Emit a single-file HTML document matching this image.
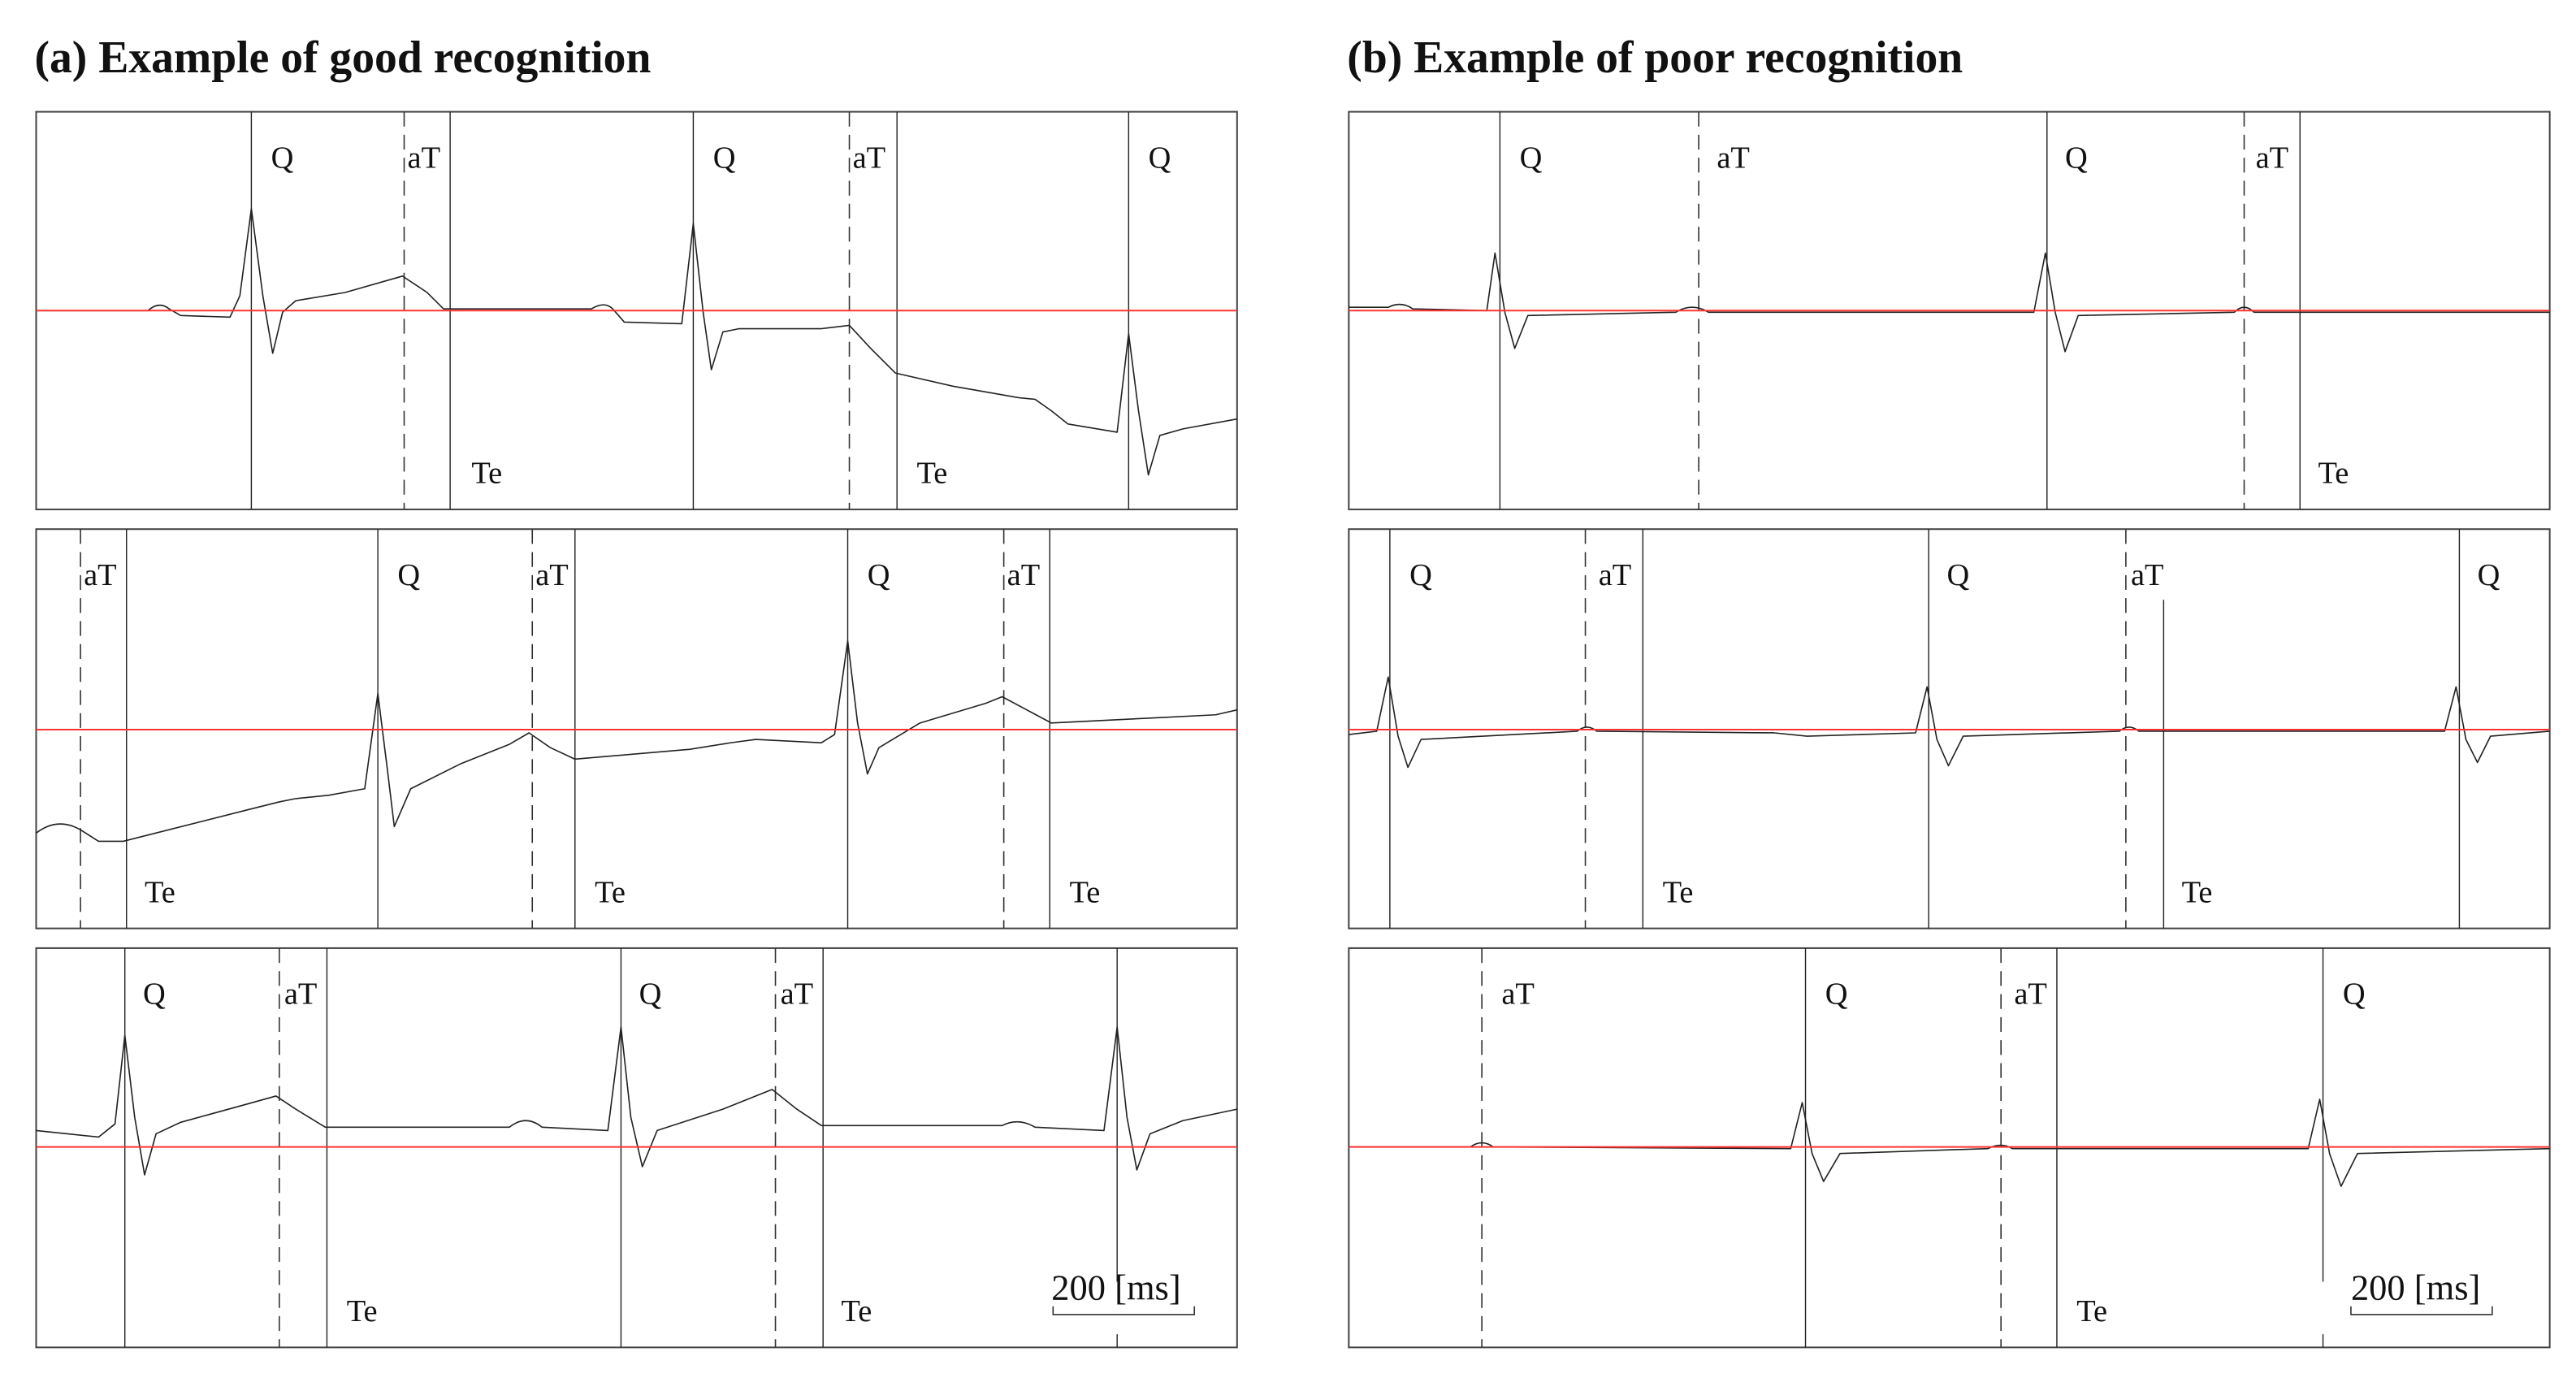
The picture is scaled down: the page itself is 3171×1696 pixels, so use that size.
<!DOCTYPE html>
<html><head><meta charset="utf-8"><style>
html,body{margin:0;padding:0;background:#fff;}
svg{display:block;}
text{font-family:"Liberation Serif",serif;fill:#111;}
</style></head><body>
<svg width="3171" height="1696" viewBox="0 0 1568 838.6" xmlns="http://www.w3.org/2000/svg">
<g font-weight="bold" font-size="27.5">
<text x="21" y="44">(a) Example of good recognition</text>
<text x="820" y="44">(b) Example of poor recognition</text>
</g>
<g fill="none" stroke="#444" stroke-width="1">
<rect x="22" y="68" width="731" height="242"/>
<rect x="22" y="322" width="731" height="243"/>
<rect x="22" y="577" width="731" height="243"/>
<rect x="821" y="68" width="731" height="242"/>
<rect x="821" y="322" width="731" height="243"/>
<rect x="821" y="577" width="731" height="243"/>
</g>
<g stroke="#222" stroke-width="0.7">
<line x1="153" y1="68" x2="153" y2="310"/><line x1="274" y1="68" x2="274" y2="310"/>
<line x1="422" y1="68" x2="422" y2="310"/><line x1="546" y1="68" x2="546" y2="310"/>
<line x1="687" y1="68" x2="687" y2="310"/>
<line x1="77" y1="322" x2="77" y2="565"/><line x1="230" y1="322" x2="230" y2="565"/>
<line x1="350" y1="322" x2="350" y2="565"/><line x1="516" y1="322" x2="516" y2="565"/>
<line x1="639" y1="322" x2="639" y2="565"/>
<line x1="76" y1="577" x2="76" y2="820"/><line x1="199" y1="577" x2="199" y2="820"/>
<line x1="378" y1="577" x2="378" y2="820"/><line x1="501" y1="577" x2="501" y2="820"/>
<line x1="680" y1="577" x2="680" y2="780"/><line x1="680" y1="812" x2="680" y2="820"/>
<line x1="913" y1="68" x2="913" y2="310"/><line x1="1246" y1="68" x2="1246" y2="310"/>
<line x1="1400" y1="68" x2="1400" y2="310"/>
<line x1="846" y1="322" x2="846" y2="565"/><line x1="1000" y1="322" x2="1000" y2="565"/>
<line x1="1174" y1="322" x2="1174" y2="565"/><line x1="1317" y1="365" x2="1317" y2="565"/>
<line x1="1497" y1="322" x2="1497" y2="565"/>
<line x1="1099" y1="577" x2="1099" y2="820"/><line x1="1252" y1="577" x2="1252" y2="820"/>
<line x1="1414" y1="577" x2="1414" y2="780"/><line x1="1414" y1="812" x2="1414" y2="820"/>
</g>
<g stroke="#333" stroke-width="0.8" stroke-dasharray="9,5">
<line x1="246" y1="68" x2="246" y2="310"/><line x1="517" y1="68" x2="517" y2="310"/>
<line x1="49" y1="322" x2="49" y2="565"/><line x1="324" y1="322" x2="324" y2="565"/><line x1="611" y1="322" x2="611" y2="565"/>
<line x1="170" y1="577" x2="170" y2="820"/><line x1="472" y1="577" x2="472" y2="820"/>
<line x1="1034" y1="68" x2="1034" y2="310"/><line x1="1366" y1="68" x2="1366" y2="310"/>
<line x1="965" y1="322" x2="965" y2="565"/><line x1="1294" y1="322" x2="1294" y2="565"/>
<line x1="902" y1="577" x2="902" y2="820"/><line x1="1218" y1="577" x2="1218" y2="820"/>
</g>
<g fill="none" stroke="#222" stroke-width="0.8" stroke-linejoin="round">
<path d="M22,189 L90,189 Q97,183 103,188 L110,192 L140,193 L146,180 L153,127 L160,180 L166,215 L172,190 L180,183 L210,178 L245,168 L260,178 L270,188 L360,188 Q368,183 373,188 L380,196 L415,197 L422,136 L428,190 L433,225 L440,202 L450,200 L500,200 L517,198 L530,212 L545,227 L580,235 L620,242 L630,243 L640,250 L650,258 L680,263 L687,203 L693,250 L699,289 L706,265 L720,261 L753,255"/>
<path d="M22,507 Q35,497 49,505 L60,512 L75,512 L150,493 L170,488 L180,486 L200,484 L222,480 L230,422 L236,470 L240,503 L250,480 L280,465 L310,453 L322,446 L335,455 L350,462 L420,456 L445,452 L460,450 L500,452 L508,447 L516,390 L522,440 L528,471 L535,455 L560,440 L600,428 L610,424 L625,432 L640,440 L700,437 L740,435 L753,432"/>
<path d="M22,688 L60,692 L70,684 L76,630 L82,680 L88,715 L95,690 L110,683 L150,672 L168,667 L180,675 L198,686 L310,686 Q320,678 330,686 L370,688 L378,625 L384,680 L391,710 L400,688 L440,675 L470,663 L485,675 L500,685 L610,685 Q620,680 630,686 L672,688 L680,625 L686,680 L692,712 L700,690 L720,682 L753,675"/>
<path d="M821,187 L845,187 Q853,183 860,188 L905,189 L910,154 L916,190 L922,212 L930,192 L1020,190 Q1030,184 1040,190 L1238,190 L1245,154 L1251,190 L1257,214 L1265,192 L1360,190 Q1366,184 1372,190 L1552,190"/>
<path d="M821,447 L838,445 L845,412 L851,448 L857,467 L865,450 L960,445 Q966,440 972,445 L1080,446 L1100,448 L1166,446 L1173,418 L1179,450 L1186,466 L1195,448 L1290,445 Q1296,440 1302,445 L1488,445 L1495,418 L1501,450 L1508,464 L1516,448 L1552,445"/>
<path d="M821,698 L895,698 Q902,693 909,698 L1090,699 L1097,671 L1103,702 L1110,719 L1120,702 L1210,699 Q1218,695 1225,699 L1405,699 L1412,669 L1418,702 L1425,722 L1435,702 L1552,699"/>
</g>
<g stroke="#f33" stroke-width="1">
<line x1="22" y1="189" x2="753" y2="189"/>
<line x1="22" y1="444" x2="753" y2="444"/>
<line x1="22" y1="698" x2="753" y2="698"/>
<line x1="821" y1="189" x2="1552" y2="189"/>
<line x1="821" y1="444" x2="1552" y2="444"/>
<line x1="821" y1="698" x2="1552" y2="698"/>
</g>
<g font-size="19">
<text x="165" y="102">Q</text><text x="248" y="102">aT</text><text x="434" y="102">Q</text><text x="519" y="102">aT</text><text x="699" y="102">Q</text>
<text x="287" y="294">Te</text><text x="558" y="294">Te</text>
<text x="51" y="356">aT</text><text x="242" y="356">Q</text><text x="326" y="356">aT</text><text x="528" y="356">Q</text><text x="613" y="356">aT</text>
<text x="88" y="549">Te</text><text x="362" y="549">Te</text><text x="651" y="549">Te</text>
<text x="87" y="611">Q</text><text x="173" y="611">aT</text><text x="389" y="611">Q</text><text x="475" y="611">aT</text>
<text x="211" y="804">Te</text><text x="512" y="804">Te</text>
<text x="925" y="102">Q</text><text x="1045" y="102">aT</text><text x="1257" y="102">Q</text><text x="1373" y="102">aT</text>
<text x="1411" y="294">Te</text>
<text x="858" y="356">Q</text><text x="973" y="356">aT</text><text x="1185" y="356">Q</text><text x="1297" y="356">aT</text><text x="1508" y="356">Q</text>
<text x="1012" y="549">Te</text><text x="1328" y="549">Te</text>
<text x="914" y="611">aT</text><text x="1111" y="611">Q</text><text x="1226" y="611">aT</text><text x="1426" y="611">Q</text>
<text x="1264" y="804">Te</text>
<text x="640" y="791" font-size="22">200 [ms]</text>
<text x="1431" y="791" font-size="22">200 [ms]</text>
</g>
<g fill="none" stroke="#333" stroke-width="0.8">
<path d="M641,795 L641,800 L727,800 L727,795"/>
<path d="M1431,795 L1431,800 L1517,800 L1517,795"/>
</g>
</svg>
</body></html>
